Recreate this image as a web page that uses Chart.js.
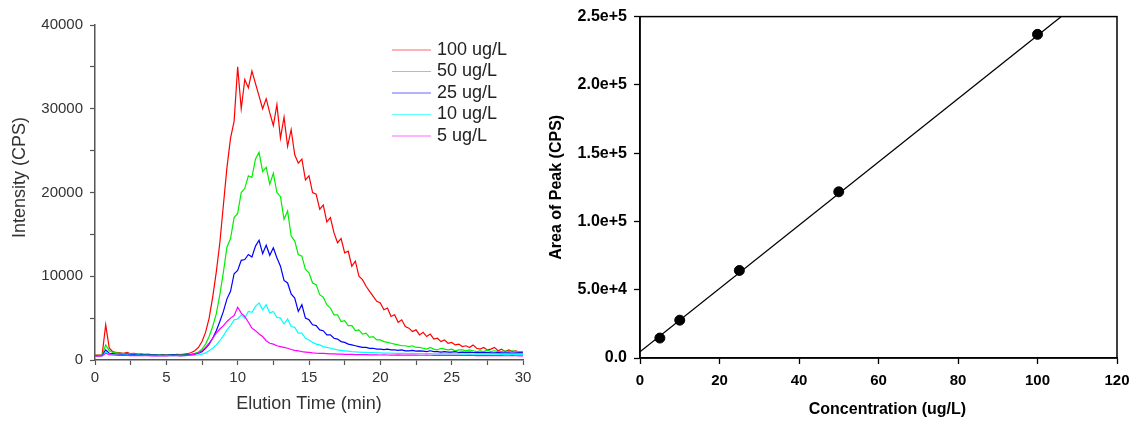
<!DOCTYPE html>
<html>
<head>
<meta charset="utf-8">
<title>Chromatograms and calibration</title>
<script src="https://cdn.jsdelivr.net/npm/chart.js@4.4.1/dist/chart.umd.min.js"></script>
<style>
    body { margin: 0; background: #fff; }
    #elution-chart { position: absolute; left: 0; top: 0; }
    #calibration-chart { position: absolute; left: 540px; top: 0; }
</style>
</head>
<body>
<canvas id="elution-chart" width="560" height="426"></canvas>
<canvas id="calibration-chart" width="602" height="426"></canvas>
<script>
// elution time (min), one reading every 0.25 min
const elutionTime = [
    0, 0.25, 0.5, 0.75, 1, 1.25, 1.5, 1.75, 2, 2.25, 2.5, 2.75, 3, 3.25, 3.5, 3.75, 4, 4.25, 4.5, 4.75,
    5, 5.25, 5.5, 5.75, 6, 6.25, 6.5, 6.75, 7, 7.25, 7.5, 7.75, 8, 8.25, 8.5, 8.75, 9, 9.25, 9.5, 9.75,
    10, 10.25, 10.5, 10.75, 11, 11.25, 11.5, 11.75, 12, 12.25, 12.5, 12.75, 13, 13.25, 13.5, 13.75, 14, 14.25, 14.5, 14.75,
    15, 15.25, 15.5, 15.75, 16, 16.25, 16.5, 16.75, 17, 17.25, 17.5, 17.75, 18, 18.25, 18.5, 18.75, 19, 19.25, 19.5, 19.75,
    20, 20.25, 20.5, 20.75, 21, 21.25, 21.5, 21.75, 22, 22.25, 22.5, 22.75, 23, 23.25, 23.5, 23.75, 24, 24.25, 24.5, 24.75,
    25, 25.25, 25.5, 25.75, 26, 26.25, 26.5, 26.75, 27, 27.25, 27.5, 27.75, 28, 28.25, 28.5, 28.75, 29, 29.25, 29.5, 29.75,
    30
];

// intensity (CPS), one row per minute
const intensity100 = [
    600, 580, 620, 4200,  1400, 1000, 900, 850,  800, 900, 750, 800,  700, 720, 650, 700,  620, 650, 600, 640,
    600, 650, 620, 680,  650, 700, 750, 900,  1100, 1500, 2200, 3300,  5000, 7500, 10500, 14000,  18500, 23000, 26500, 28500,
    35000, 30000, 33500, 32500,  34500, 33000, 31500, 30000,  31200, 29500, 28000, 30500,  26500, 29000, 25500, 27500,  24500, 23500, 24000, 21500,
    22000, 20000, 19800, 18000,  18500, 16500, 17000, 15200,  14000, 14500, 12800, 13000,  11200, 11800, 10000, 9600,  8800, 8200, 7600, 7000,
    6800, 6000, 6200, 5200,  5400, 4500, 4800, 4000,  3800, 3400, 3600, 3000,  3300, 2800, 3100, 2500,  2600, 2200, 2400, 2000,
    2100, 1800, 1900, 1600,  1700, 1500, 1800, 1400,  1300, 1500, 1200, 1300,  1500, 1100, 1300, 1000,  1200, 1000, 1100, 900,
    1000
];
const intensity50 = [
    550, 560, 580, 1800,  1100, 900, 850, 800,  750, 800, 700, 720,  680, 650, 700, 640,  620, 600, 640, 610,
    600, 620, 640, 620,  600, 640, 680, 700,  800, 950, 1300, 1900,  2800, 4000, 5500, 7800,  10500, 13500, 14500, 17000,
    17500, 20000, 20500, 22000,  21800, 24000, 24800, 22500,  23000, 21000, 22300, 20000,  19500, 16800, 17800, 14800,  14200, 12600, 12400, 10800,
    10400, 9200, 9000, 7800,  7500, 6600, 6200, 5400,  5400, 4600, 4700, 4100,  4100, 3500, 3600, 3100,  3200, 2700, 2800, 2400,
    2400, 2200, 2100, 2000,  1900, 1800, 1700, 1700,  1600, 1700, 1500, 1500,  1400, 1300, 1500, 1300,  1200, 1400, 1300, 1200,
    1300, 1100, 1200, 1200,  1100, 1200, 1100, 1000,  1100, 1000, 1200, 1000,  1100, 1000, 1000, 1100,  1000, 1100, 1000, 1000,
    1000
];
const intensity25 = [
    500, 520, 540, 1200,  800, 750, 700, 680,  650, 700, 620, 640,  600, 620, 580, 600,  580, 600, 560, 590,
    570, 590, 600, 580,  560, 600, 620, 650,  700, 800, 1000, 1400,  1900, 2600, 3500, 4600,  5800, 7300, 8200, 10300,
    10700, 11900, 12000, 12600,  12300, 13600, 14300, 12700,  13700, 12500, 13400, 12200,  11200, 9500, 9200, 7900,  7400, 5800, 6600, 5000,
    4800, 4200, 4100, 3600,  3500, 3000, 3000, 2600,  2500, 2200, 2100, 1900,  1800, 1700, 1600, 1500,  1500, 1400, 1400, 1300,
    1300, 1250, 1300, 1200,  1200, 1150, 1200, 1100,  1100, 1150, 1050, 1100,  1050, 1000, 1100, 1000,  1000, 950, 1000, 950,
    950, 1000, 900, 950,  900, 950, 900, 880,  900, 870, 900, 860,  850, 880, 850, 860,  850, 830, 860, 840,
    850
];
const intensity10 = [
    450, 480, 500, 900,  700, 650, 620, 600,  580, 600, 560, 570,  550, 560, 540, 550,  530, 550, 520, 540,
    520, 540, 530, 520,  500, 520, 540, 560,  580, 620, 700, 850,  1100, 1400, 1800, 2300,  2900, 3600, 4100, 4800,
    4900, 5400, 5000, 5800,  5700, 6400, 6800, 6000,  6600, 5600, 5800, 5100,  5000, 4300, 4900, 4000,  3900, 3200, 3200, 2600,
    2400, 2100, 1900, 1800,  1600, 1500, 1400, 1300,  1200, 1150, 1100, 1050,  1000, 980, 950, 920,  900, 880, 870, 850,
    840, 830, 820, 810,  800, 790, 800, 780,  770, 780, 760, 770,  760, 750, 760, 740,  740, 750, 730, 740,
    730, 720, 730, 710,  720, 710, 700, 710,  700, 690, 700, 690,  690, 700, 680, 690,  680, 690, 680, 670,
    680
];
const intensity5 = [
    450, 470, 480, 800,  650, 600, 580, 560,  540, 560, 530, 540,  520, 530, 510, 520,  500, 520, 500, 510,
    500, 510, 520, 510,  500, 530, 560, 620,  700, 850, 1100, 1500,  2000, 2600, 3200, 3700,  4100, 4600, 5000, 5300,
    6300, 5600, 5200, 4500,  3800, 3500, 3100, 2800,  2300, 2000, 1900, 1700,  1600, 1500, 1400, 1250,  1150, 1100, 1000, 950,
    900, 850, 820, 800,  780, 760, 740, 720,  700, 690, 680, 670,  660, 650, 640, 640,  630, 620, 620, 610,
    600, 610, 600, 590,  590, 600, 590, 580,  580, 590, 580, 570,  570, 580, 570, 560,  560, 570, 560, 550,
    550, 560, 550, 540,  540, 550, 540, 530,  530, 540, 530, 520,  520, 530, 520, 510,  510, 520, 510, 500,
    500
];

const seriesLabels = ["100 ug/L", "50 ug/L", "25 ug/L", "10 ug/L", "5 ug/L"];
const seriesColors = ["#ff0000", "#00ee00", "#0000ff", "#00ffff", "#ff00ff"];

// calibration
const concentration = [5, 10, 25, 50, 100];
const peakArea = [14600, 27700, 64100, 121700, 237000];
const fitConcentration = [0, 106];
const fitArea = [4500, 250000];

const toPoints = function(xs, ys){
    let res = [];
    for (let i = 0; i < xs.length; i++) {
        res.push({ x: xs[i], y: ys[i] });
    }
    return res;
}

const fixSize = function(size){
    return function(scale){
        if(scale.isHorizontal()){
            scale.height = size;
        }else{
            scale.width = size;
        }
    }
}

const insideLegend = {
    id: 'insideLegend',
    afterDraw(chart){
        let ctx = chart.ctx;
        let area = chart.chartArea;
        ctx.save();
        ctx.font = '18px "Liberation Sans", Arial, sans-serif';
        ctx.textBaseline = 'middle';
        ctx.fillStyle = '#222';
        chart.data.datasets.forEach((ds, i) => {
            let y = area.top + 25 + i * 21.5;
            ctx.strokeStyle = ds.borderColor;
            ctx.globalAlpha = 0.6;
            ctx.lineWidth = 1;
            ctx.beginPath();
            ctx.moveTo(area.left + 297, y);
            ctx.lineTo(area.left + 336, y);
            ctx.stroke();
            ctx.globalAlpha = 1;
            ctx.fillText(ds.label, area.left + 342, y);
        });
        ctx.restore();
    }
}

const frameBox = {
    id: 'frameBox',
    afterDraw(chart){
        let ctx = chart.ctx;
        let a = chart.chartArea;
        ctx.save();
        ctx.strokeStyle = '#000';
        ctx.lineWidth = 1.5;
        ctx.strokeRect(a.left, a.top, a.right - a.left, a.bottom - a.top);
        ctx.restore();
    }
}

const getElutionChart = function(){
    let datasets = [
        intensity100, intensity50, intensity25, intensity10, intensity5
    ].map((values, i) => ({
        label: seriesLabels[i],
        data: toPoints(elutionTime, values),
        borderColor: seriesColors[i],
        borderWidth: 1.2,
        pointRadius: 0,
        tension: 0,
        order: 4 - i
    }));

    let tickFont = { family: '"Liberation Sans", Arial, sans-serif', size: 15 };
    let titleFont = { family: '"Liberation Sans", Arial, sans-serif', size: 18 };

    new Chart(document.getElementById('elution-chart'), {
        type: 'line',
        data: { datasets },
        plugins: [insideLegend],
        options: {
            responsive: false,
            animation: false,
            layout: { padding: { left: 0, right: 37, top: 25, bottom: 0 } },
            plugins: { legend: { display: false }, tooltip: { enabled: false } },
            scales: {
                x: {
                    type: 'linear',
                    min: 0,
                    max: 30,
                    afterFit: fixSize(66),
                    ticks: {
                        stepSize: 2.5,
                        autoSkip: false,
                        maxRotation: 0,
                        padding: 4,
                        color: '#333',
                        font: tickFont,
                        callback: v => v % 5 === 0 ? v : ''
                    },
                    grid: { drawOnChartArea: false, tickLength: 5, tickColor: '#555', tickWidth: 1.2 },
                    border: { color: '#555', width: 1.5 },
                    title: { display: true, text: 'Elution Time (min)', color: '#333', font: titleFont, padding: { top: 0, bottom: 11 } }
                },
                y: {
                    min: 0,
                    max: 40000,
                    afterFit: fixSize(95),
                    ticks: {
                        stepSize: 5000,
                        autoSkip: false,
                        padding: 7,
                        color: '#333',
                        font: tickFont,
                        callback: v => v % 10000 === 0 ? v : ''
                    },
                    grid: { drawOnChartArea: false, tickLength: 5, tickColor: '#555', tickWidth: 1.2 },
                    border: { color: '#555', width: 1.5 },
                    // leading spaces nudge the rotated title up a little, like the original
                    title: { display: true, text: '      Intensity (CPS)', color: '#333', font: titleFont, padding: { top: 9, bottom: 0 } }
                }
            }
        }
    });
}

const getCalibrationChart = function(){
    let xTickFont = { family: '"Liberation Sans", Arial, sans-serif', size: 15, weight: 'bold' };
    let yTickFont = { family: '"Liberation Sans", Arial, sans-serif', size: 16, weight: 'bold' };
    let titleFont = { family: '"Liberation Sans", Arial, sans-serif', size: 16, weight: 'bold' };

    new Chart(document.getElementById('calibration-chart'), {
        type: 'scatter',
        data: {
            datasets: [{
                type: 'line',
                data: toPoints(fitConcentration, fitArea),
                borderColor: '#000',
                borderWidth: 1.3,
                pointRadius: 0,
                order: 2
            }, {
                data: toPoints(concentration, peakArea),
                backgroundColor: '#000',
                borderColor: '#000',
                pointRadius: 5,
                order: 1
            }]
        },
        plugins: [frameBox],
        options: {
            responsive: false,
            animation: false,
            layout: { padding: { left: 0, right: 25, top: 15, bottom: 0 } },
            plugins: { legend: { display: false }, tooltip: { enabled: false } },
            scales: {
                x: {
                    type: 'linear',
                    min: 0,
                    max: 120,
                    afterFit: fixSize(68),
                    ticks: { stepSize: 20, maxRotation: 0, padding: 8, color: '#000', font: xTickFont },
                    grid: { drawOnChartArea: false, tickLength: 6, tickColor: '#000', tickWidth: 1.3 },
                    border: { color: '#000', width: 1.5 },
                    title: { display: true, text: '    Concentration (ug/L)', color: '#000', font: titleFont, padding: { top: 0, bottom: 7 } }
                },
                y: {
                    min: 0,
                    max: 250000,
                    afterFit: fixSize(100),
                    ticks: {
                        stepSize: 50000,
                        padding: 7,
                        color: '#000',
                        font: yTickFont,
                        callback: function(v){
                            if(v === 0){
                                return '0.0';
                            }
                            let exp = Math.floor(Math.log10(v));
                            return (v / Math.pow(10, exp)).toFixed(1) + 'e+' + exp;
                        }
                    },
                    grid: { drawOnChartArea: false, tickLength: 6, tickColor: '#000', tickWidth: 1.3 },
                    border: { color: '#000', width: 1.5 },
                    title: { display: true, text: 'Area of Peak (CPS)', color: '#000', font: titleFont, padding: { top: 7, bottom: 0 } }
                }
            }
        }
    });
}

getElutionChart();
getCalibrationChart();
</script>
</body>
</html>
